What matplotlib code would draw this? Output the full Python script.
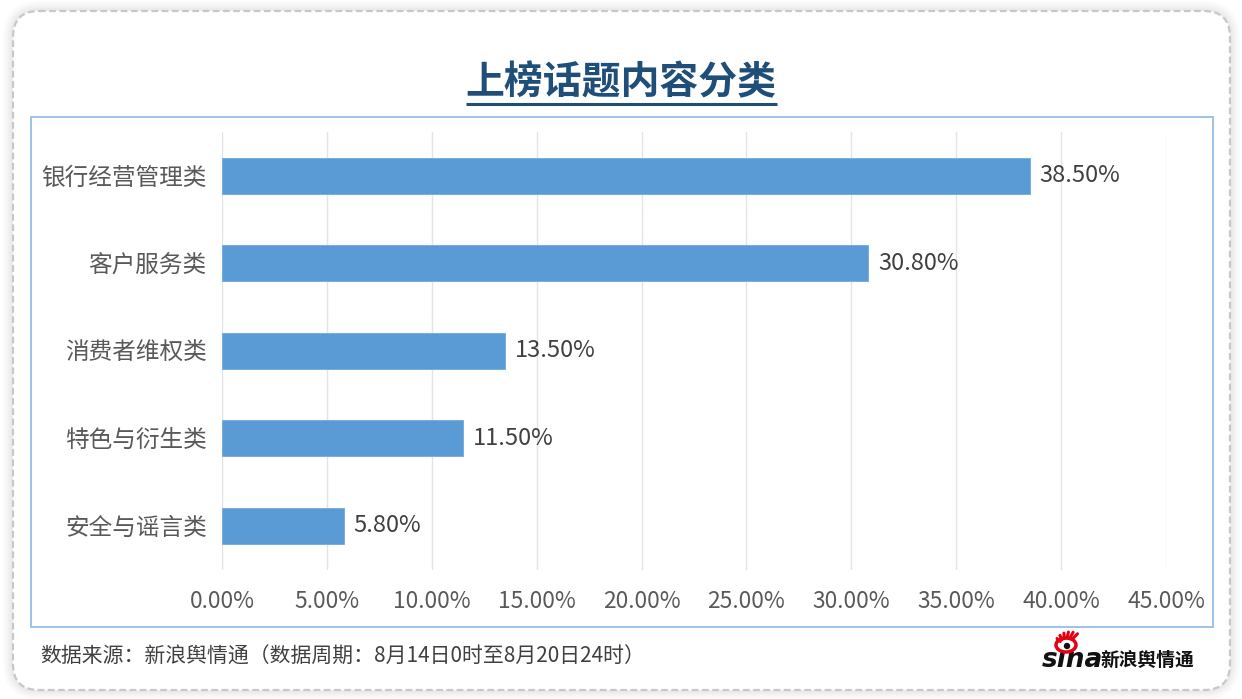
import matplotlib
matplotlib.use("Agg")
import matplotlib.pyplot as plt
from matplotlib.patches import FancyBboxPatch, Rectangle, Circle, Ellipse
import numpy as np

plt.rcParams['font.family'] = ['Noto Sans CJK SC', 'DejaVu Sans']

# ---- data ----
title = "上榜话题内容分类"
categories = ["银行经营管理类", "客户服务类", "消费者维权类", "特色与衍生类", "安全与谣言类"]
values = [38.5, 30.8, 13.5, 11.5, 5.8]
xticks = [0, 5, 10, 15, 20, 25, 30, 35, 40, 45]
xtick_labels = ["0.00%", "5.00%", "10.00%", "15.00%", "20.00%", "25.00%",
                "30.00%", "35.00%", "40.00%", "45.00%"]
footer = "数据来源：新浪舆情通（数据周期：8月14日0时至8月20日24时）"
logo_latin = "sina"
logo_cjk = "新浪舆情通"

W, H = 1242, 699
fig = plt.figure(figsize=(W / 100, H / 100), dpi=100)
fig.patch.set_facecolor("white")

# background / decoration axes in pixel coordinates
bg = fig.add_axes([0, 0, 1, 1], zorder=0)
bg.set_xlim(0, W)
bg.set_ylim(H, 0)
bg.axis("off")

# soft shadow around outer card
for i, lw in enumerate([14, 10, 7, 4]):
    bg.add_patch(FancyBboxPatch((13, 11), 1217, 679,
                                boxstyle="round,pad=0,rounding_size=26",
                                facecolor="none", edgecolor="#000000",
                                alpha=0.018, lw=lw))
bg.add_patch(FancyBboxPatch((13, 11), 1217, 679,
                            boxstyle="round,pad=0,rounding_size=26",
                            facecolor="white", edgecolor="#C8C8C8",
                            lw=1.6, linestyle=(0, (3, 1.6))))
# inner chart border
bg.add_patch(Rectangle((31, 117), 1182, 510, facecolor="none",
                       edgecolor="#9DC3E6", lw=1.4))

# title with underline
t = bg.text(621, 83, title, ha="center", va="center", fontsize=28,
            fontweight="bold", color="#1F4E79")
fig.canvas.draw()
bb = t.get_window_extent(renderer=fig.canvas.get_renderer())
bg.plot([bb.x0, bb.x1], [104, 104], color="#1F4E79", lw=2.2,
        solid_capstyle="butt")

# footer
bg.text(40, 657, footer, ha="left", va="center", fontsize=15,
        color="#404040")

# sina logo (approximation)
bg.text(1042, 660, logo_latin, ha="left", va="center", fontsize=19,
        fontweight="bold", fontstyle="italic", color="#111111",
        family=["DejaVu Sans"])
bg.text(1101, 660, logo_cjk, ha="left", va="center", fontsize=13.5,
        fontweight="bold", color="#111111")
bg.add_patch(Ellipse((1066, 645), 20, 14, facecolor="white",
                     edgecolor="#E60012", lw=2.5, zorder=5))
bg.add_patch(Circle((1067, 646), 3.2, facecolor="#111111", zorder=6))
for ang in np.linspace(60, 150, 6):
    a = np.deg2rad(ang)
    bg.plot([1066 + 9 * np.cos(a) + 2, 1066 + 15 * np.cos(a) + 4],
            [645 - 7 * np.sin(a), 645 - 13 * np.sin(a)],
            color="#E60012", lw=2.2, solid_capstyle="round", zorder=5)

# main chart axes
ax = fig.add_axes([222 / W, 1 - 569.5 / H, (1166 - 222) / W, (569.5 - 132) / H],
                  zorder=2)
ax.set_facecolor("none")
y = np.arange(len(categories))
ax.barh(y, values, height=0.41, color="#5B9BD5", edgecolor="#6FA8DC",
        lw=0.6, zorder=3)
ax.set_ylim(len(categories) - 0.5, -0.5)
ax.set_xlim(0, 45)
ax.set_xticks(xticks)
ax.set_xticklabels(xtick_labels)
ax.set_yticks(y)
ax.set_yticklabels(categories)
ax.tick_params(axis="x", length=0, pad=15, labelsize=16.4, labelcolor="#595959")
ax.tick_params(axis="y", length=0, pad=11, labelsize=17, labelcolor="#595959")
ax.grid(axis="x", color="#E4E4E4", lw=1.0, zorder=0)
ax.grid(axis="y", visible=False)
for s in ax.spines.values():
    s.set_visible(False)

for yi, v in zip(y, values):
    ax.annotate(f"{v:.2f}%", (v, yi), xytext=(7, 0), textcoords="offset points",
                ha="left", va="center", fontsize=17, color="#404040")

fig.savefig("out.png", dpi=100, facecolor="white")
